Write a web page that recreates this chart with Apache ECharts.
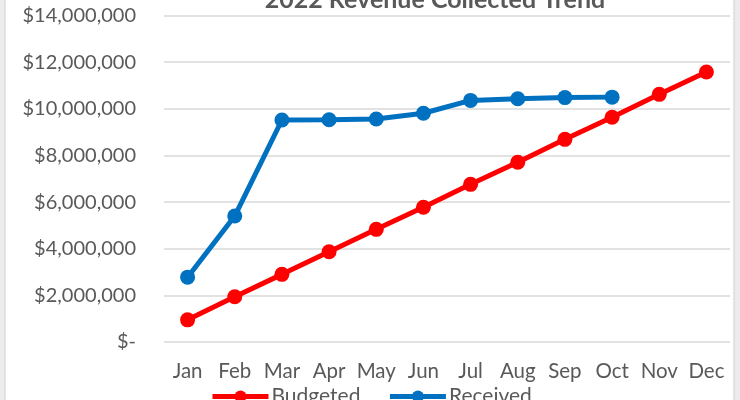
<!DOCTYPE html>
<html>
<head>
<meta charset="utf-8">
<style>
  html, body { margin: 0; padding: 0; background: #ececec; }
  #chart { width: 740px; height: 400px; }
</style>
<script src="https://cdn.jsdelivr.net/npm/echarts@6.0.0/dist/echarts.min.js"></script>
</head>
<body>
<div id="chart"></div>
<script>
const months = ['Jan', 'Feb', 'Mar', 'Apr', 'May', 'Jun', 'Jul', 'Aug', 'Sep', 'Oct', 'Nov', 'Dec'];
const budgeted = [950000, 1940000, 2900000, 3870000, 4830000, 5780000, 6760000, 7710000, 8690000, 9640000, 10620000, 11580000];
const received = [2780000, 5400000, 9520000, 9530000, 9560000, 9810000, 10360000, 10430000, 10480000, 10500000];

const chart = echarts.init(document.getElementById('chart'));
const font = 'Lato';
const grey = '#595959';

function money(v) {
    if (v === 0) return '$-';
    return '$' + v.toLocaleString('en-US');
}

const option = {
    backgroundColor: '#ececec',
    animation: false,
    textStyle: { fontFamily: font },
    graphic: [{
        type: 'rect',
        shape: { x: 5, y: -5, width: 729, height: 420 },
        style: { fill: '#fff', stroke: '#d0d0d0', lineWidth: 1 },
        z: -10
    }],
    title: {
        text: '2022 Revenue Collected Trend',
        left: 435,
        textAlign: 'center',
        top: -13,
        padding: 0,
        textStyle: { fontFamily: font, fontSize: 25, fontWeight: 'bold', color: grey }
    },
    legend: {
        data: ['Budgeted', 'Received'],
        left: 210,
        top: 386,
        padding: 0,
        itemWidth: 56,
        itemHeight: 15,
        itemGap: 27,
        lineStyle: { width: 5 },
        textStyle: { fontFamily: font, fontSize: 21, color: grey, padding: [0, 0, 0, -2] }
    },
    grid: { left: 164, right: 10, top: 15.5, bottom: 58 },
    xAxis: {
        type: 'category',
        data: months,
        axisLine: { show: false },
        axisTick: { show: false },
        axisLabel: { fontFamily: font, fontSize: 20.5, color: grey, margin: 19, interval: 0 }
    },
    yAxis: {
        type: 'value',
        min: 0,
        max: 14000000,
        interval: 2000000,
        axisLabel: { fontFamily: font, fontSize: 20, color: grey, margin: 28, formatter: money },
        splitLine: { lineStyle: { color: '#d9d9d9', width: 1.5 } }
    },
    series: [
        {
            name: 'Budgeted',
            type: 'line',
            data: budgeted,
            symbol: 'circle',
            symbolSize: 15,
            lineStyle: { color: '#ff0000', width: 5 },
            itemStyle: { color: '#ff0000' }
        },
        {
            name: 'Received',
            type: 'line',
            data: received,
            symbol: 'circle',
            symbolSize: 15,
            lineStyle: { color: '#0070c0', width: 5 },
            itemStyle: { color: '#0070c0' }
        }
    ]
};

chart.setOption(option);
</script>
</body>
</html>
